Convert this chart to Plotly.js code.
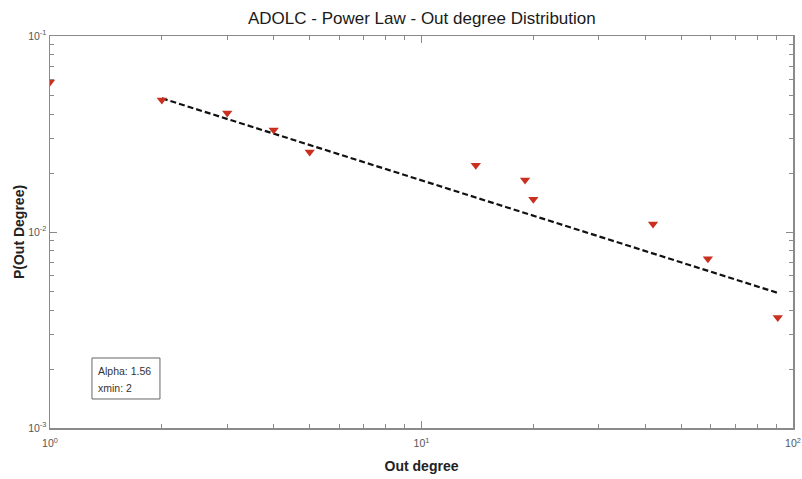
<!DOCTYPE html>
<html>
<head>
<meta charset="utf-8">
<script src="https://cdn.plot.ly/plotly-3.0.1.min.js"></script>
<style>html,body{margin:0;padding:0;background:#fff;}#chart{width:802px;height:479px;}</style>
</head>
<body>
<div id="chart"></div>
<script>
// Observed out-degree distribution
var degrees = [1, 2, 3, 4, 5, 14, 19, 20, 42, 59, 91];
var probabilities = [0.0582, 0.0472, 0.0405, 0.0331, 0.0256, 0.0219, 0.0184, 0.0147, 0.0110, 0.00730, 0.00366];
// Power-law fit line endpoints
var fitX = [2, 91];
var fitY = [0.0481, 0.00489];
var alphaText = "Alpha: 1.56";
var xminText = "xmin: 2";
// Tick labels
var xTickVals = [1, 10, 100];
var xTickText = ['10<sup>0</sup>', '10<sup>1</sup>', '10<sup>2</sup>'];
var yTickVals = [0.001, 0.01, 0.1];
var yTickText = ['10<sup>-3</sup>', '10<sup>-2</sup>', '10<sup>-1</sup>'];
var xMinorVals = [2, 3, 4, 5, 6, 7, 8, 9, 20, 30, 40, 50, 60, 70, 80, 90];
var yMinorVals = [0.002, 0.003, 0.004, 0.005, 0.006, 0.007, 0.008, 0.009,
                  0.02, 0.03, 0.04, 0.05, 0.06, 0.07, 0.08, 0.09];

var fontFam = '"Liberation Sans Narrow", "Arial Narrow", "Liberation Sans", Arial, sans-serif';
var axisCol = '#8a8a8a';

var traces = [
  {
    x: fitX, y: fitY, mode: 'lines', type: 'scatter',
    line: {color: '#111', width: 2.2, dash: '6px,3px'},
    hoverinfo: 'skip', showlegend: false
  },
  {
    x: degrees, y: probabilities, mode: 'markers', type: 'scatter',
    marker: {symbol: 'triangle-down', size: 9, color: '#c9301f', line: {width: 0}},
    showlegend: false
  }
];

function axisBase(vals, text, minorVals) {
  return {
    type: 'log', tickmode: 'array', tickvals: vals, ticktext: text,
    ticklabeloverflow: 'allow',
    showgrid: false, zeroline: false,
    showline: true, linecolor: axisCol, linewidth: 1.5, mirror: 'ticks',
    ticks: 'inside', ticklen: 7, tickwidth: 1, tickcolor: axisCol,
    tickfont: {family: fontFam, size: 10.5, color: '#555'},
    minor: {tickmode: 'array', tickvals: minorVals, ticks: 'inside', ticklen: 4,
            tickwidth: 1, tickcolor: axisCol, showgrid: false}
  };
}

var xa = axisBase(xTickVals, xTickText, xMinorVals);
xa.range = [0, 2];
xa.ticklabelstandoff = 5;
xa.title = {text: '<b>Out degree</b>', font: {family: fontFam, size: 14, color: '#222'}, standoff: 13};

var ya = axisBase(yTickVals, yTickText, yMinorVals);
ya.range = [-3, -1];
ya.title = {text: '<b>P(Out Degree)</b>', font: {family: fontFam, size: 14, color: '#222'}, standoff: 0};

var layout = {
  width: 802, height: 479,
  margin: {l: 50, r: 9, t: 36, b: 51, pad: 0},
  paper_bgcolor: '#fff', plot_bgcolor: '#fff',
  title: {text: 'ADOLC - Power Law - Out degree Distribution',
          font: {family: fontFam, size: 17, color: '#1a1a1a'},
          x: 0.526, xanchor: 'center', y: 0.963, yanchor: 'middle'},
  xaxis: xa, yaxis: ya,
  shapes: [{
    type: 'rect', xref: 'paper', yref: 'paper',
    x0: 0.0565, x1: 0.148, y0: 0.074, y1: 0.1786,
    line: {color: '#666', width: 1}, fillcolor: '#fff'
  }],
  annotations: [
    {xref: 'paper', yref: 'paper', x: 0.062, y: 0.1454, xanchor: 'left', yanchor: 'middle',
     text: alphaText, showarrow: false, font: {family: fontFam, size: 10.5, color: '#333'}},
    {xref: 'paper', yref: 'paper', x: 0.062, y: 0.102, xanchor: 'left', yanchor: 'middle',
     text: xminText, showarrow: false, font: {family: fontFam, size: 10.5, color: '#333'}}
  ]
};

Plotly.newPlot('chart', traces, layout, {displayModeBar: false, staticPlot: true});
</script>
</body>
</html>
